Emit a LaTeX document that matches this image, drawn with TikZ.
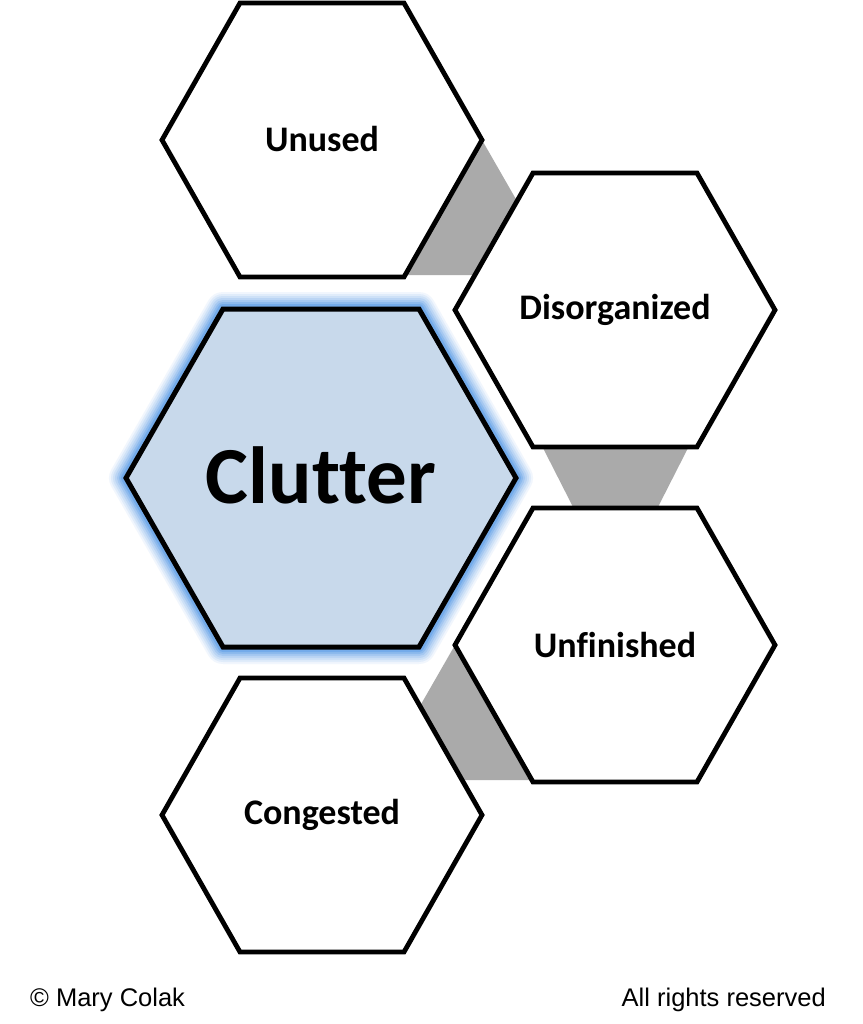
\documentclass[tikz,border=0pt]{standalone}
\usepackage{fontspec}
\setmainfont{Carlito}[Ligatures=NoCommon]
\newfontfamily\footfont{Liberation Sans}
\definecolor{clutterfill}{RGB}{200,217,235}
\definecolor{glowblue}{RGB}{80,150,230}
\definecolor{linkgray}{RGB}{170,170,170}
\newcommand\hexat[5]{(#1-#4,#2) -- (#1-#3,#2-#5) -- (#1+#3,#2-#5) -- (#1+#4,#2) -- (#1+#3,#2+#5) -- (#1-#3,#2+#5) -- cycle}
\begin{document}
\begin{tikzpicture}[x=1pt,y=-1pt,
  hexbox/.style={draw=black, fill=white, line width=4.8pt},
  mainbox/.style={draw=black, fill=clutterfill, line width=5pt},
  link/.style={fill=linkgray, draw=none},
  lbl/.style={font=\fontsize{36}{40}\selectfont\bfseries, inner sep=0pt},
  foot/.style={font=\footfont\fontsize{25.5}{28}\selectfont, inner sep=0pt}]
\useasboundingbox[fill=white] (0,0) rectangle (862,1024);
% gray links
\fill[link] (482,140) -- (517,201) -- (475,275) -- (405,275) -- cycle;
\fill[link] (543,448) -- (688,448) -- (658,507) -- (573,507) -- cycle;
\fill[link] (455,645) -- (420,706) -- (463,780) -- (532,780) -- cycle;
% glow
\foreach \w/\o in {34/0.08, 30/0.1, 26/0.12, 22/0.15, 18/0.2, 14/0.28, 10/0.4}{
  \draw[line width=\w pt, glowblue, opacity=\o, line join=round] \hexat{321}{478}{98}{195}{169};
}
% hexagons
\draw[mainbox] \hexat{321}{478}{98}{195}{169};
\draw[hexbox] \hexat{322}{140}{82}{160}{137};
\draw[hexbox] \hexat{615}{310}{82}{160}{137};
\draw[hexbox] \hexat{615}{645}{82}{160}{137};
\draw[hexbox] \hexat{322}{815}{82}{160}{137};
% labels
\node[lbl] (unused) at (322,139) {Unused};
\node[lbl] (disorg) at (615,310) {Disorganized};
\node[lbl] (clutter) at (321,475) {\fontsize{81}{90}\selectfont Clutter};
\node[lbl] (unfin) at (615,645) {Unfinished};
\node[lbl] (cong) at (322,815) {Congested};
\node[foot, anchor=west] (copy) at (30,1000) {© Mary Colak};
\node[foot, anchor=east] (rights) at (826,1000) {All rights reserved};
\end{tikzpicture}
\end{document}
